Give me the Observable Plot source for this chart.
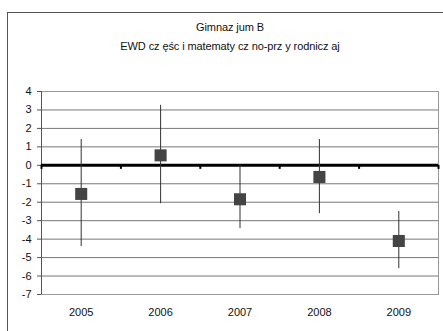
<!DOCTYPE html>
<html><head><meta charset="utf-8">
<script src="https://cdn.jsdelivr.net/npm/d3@7"></script>
<script src="https://cdn.jsdelivr.net/npm/@observablehq/plot@0.6"></script>
<style>
html,body{margin:0;padding:0;background:#fff;overflow:hidden;width:443px;height:331px}
#wrap{position:relative;width:443px;height:331px;font-family:"Liberation Sans",Arial,sans-serif}
#border{position:absolute;left:7px;top:12px;width:460px;height:340px;border:1px solid #555;box-sizing:border-box;border-width:1px 0 0 1px}
.t{position:absolute;left:0;width:460px;text-align:center;font-size:11px;color:#111;letter-spacing:-0.1px}
#chart{position:absolute;left:0;top:0}
</style></head><body>
<div id="wrap"><div id="border"></div>
<div class="t" id="t1" style="top:21px">Gimnaz jum B</div>
<div class="t" id="t2" style="top:40px">EWD cz ęśc i matematy cz no-prz y rodnicz aj</div>
<div id="chart"></div></div>
<script>
const years = [2005, 2006, 2007, 2008, 2009];
const values = [-1.55, 0.54, -1.84, -0.63, -4.1];
const upper = [1.4, 3.25, 0.0, 1.4, -2.5];
const lower = [-4.4, -2.08, -3.43, -2.62, -5.6];
const yTicks = [4, 3, 2, 1, 0, -1, -2, -3, -4, -5, -6, -7];
const boundaries = [2004.5, 2005.5, 2006.5, 2007.5, 2008.5, 2009.5];

const data = years.map((y, i) => ({year: y, v: values[i], hi: upper[i], lo: lower[i]}));

const chart = Plot.plot({
  width: 443, height: 331,
  marginLeft: 41, marginRight: 5, marginTop: 91, marginBottom: 37,
  style: {fontFamily: "'Liberation Sans', Arial, sans-serif", fontSize: "11px", color: "#111", background: "transparent"},
  x: {type: "linear", domain: [2004.5, 2009.5], label: null},
  y: {domain: [-7, 4], label: null},
  marks: [
    Plot.gridY(yTicks, {stroke: "#777", strokeOpacity: 1}),
    Plot.frame({stroke: "#999"}),
    Plot.axisX({ticks: years, tickFormat: d => String(d), tickSize: 0, tickPadding: 14, fill: "#111"}),
    Plot.axisY({ticks: yTicks, tickFormat: d => String(d), tickSize: 4, tickPadding: 6, stroke: "#555", fill: "#111"}),
    Plot.ruleX([2004.5], {stroke: "#555"}),
    Plot.ruleY([0], {stroke: "#000", strokeWidth: 3}),
    Plot.ruleX(boundaries, {y1: 0, y2: -0.22, stroke: "#000", strokeWidth: 2}),
    Plot.ruleX(data, {x: "year", y1: "lo", y2: "hi", stroke: "#333", strokeWidth: 1}),
    Plot.dot(data, {x: "year", y: "v", symbol: "square", r: 6.8, fill: "#444", stroke: "none"})
  ]
});
document.getElementById("chart").appendChild(chart);
</script>
</body></html>
